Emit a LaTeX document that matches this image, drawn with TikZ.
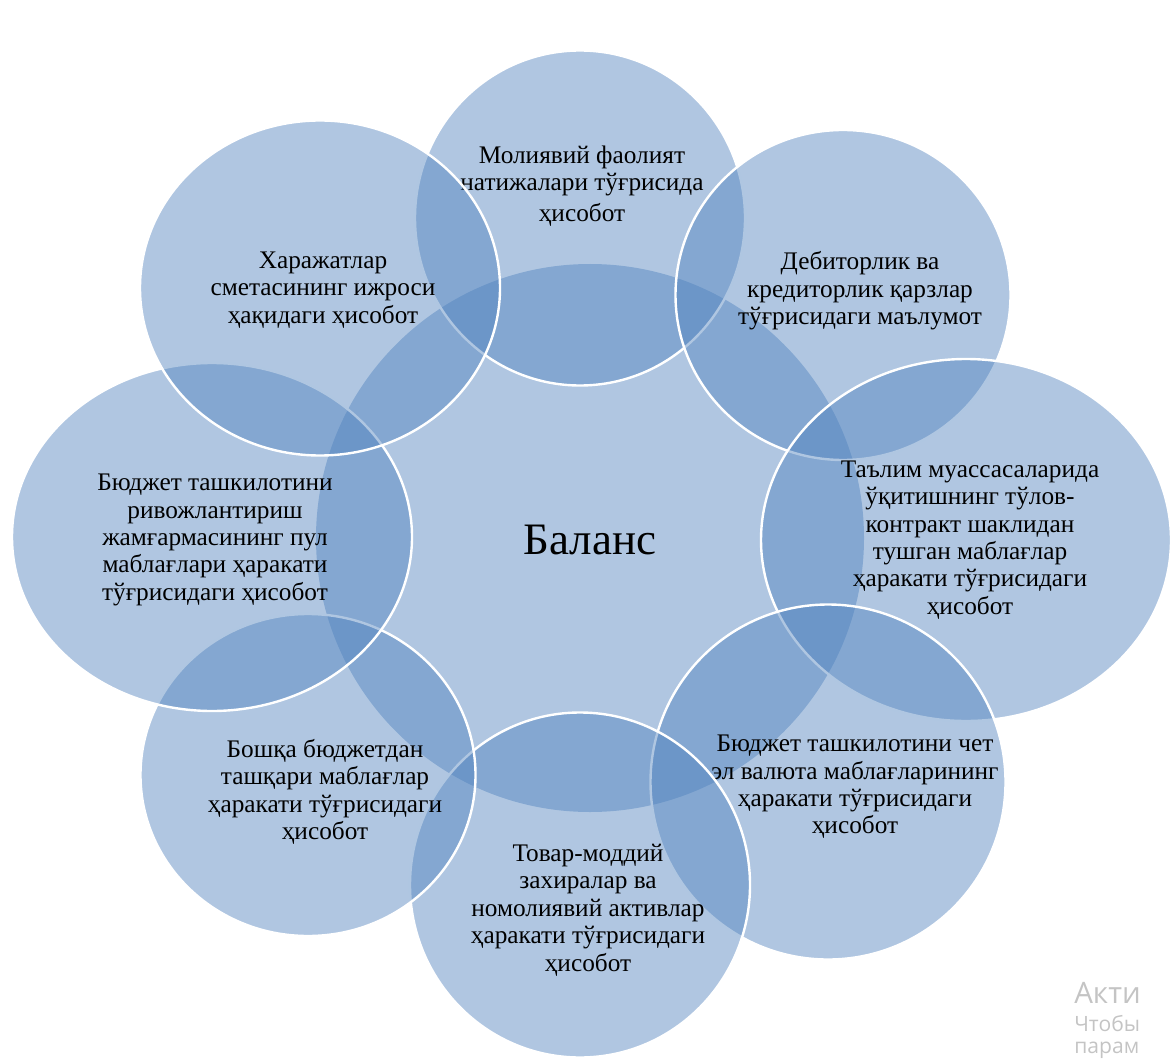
\documentclass[tikz,border=0pt]{standalone}
\usepackage{fontspec}
\setmainfont{Liberation Serif}
\newfontfamily\markfont{Open Sans}
\usetikzlibrary{shapes.geometric}
\definecolor{vennblue}{RGB}{79,129,189}
\definecolor{markgray}{RGB}{196,196,196}

\begin{document}
\begin{tikzpicture}[x=0.25mm, y=-0.25mm,
                        hub/.style={ellipse, fill=vennblue, fill opacity=0.45, text opacity=1, inner sep=0, minimum size=#1*0.25mm},
                        petal/.style 2 args={ellipse, draw=white, line width=0.6mm, fill=vennblue, fill opacity=0.45, inner sep=0, minimum width=#1*0.25mm, minimum height=#2*0.25mm},
                        caption/.style={align=center, text=black, inner sep=0, font=\fontsize{18}{19.5}\selectfont},
                        cornernote/.style={anchor=west, inner sep=0, text=markgray},
                        ]
        \clip (0,0) rectangle (1173,1061);

        %Centre
        \node[hub=548]   (balans)   at (590,538)  {};
        \node[caption, font=\fontsize{32}{34}\selectfont] (balansText) at (590,540) {Баланс};

        %Petals, clockwise from the top
        \node[petal={330}{335}]  (natija)   at (580,218)  {};
        \node[caption] (natijaText) at (582,186) {Молиявий фаолият\\натижалари тўғрисида\\[2pt]ҳисобот};

        \node[petal={335}{330}]  (debitor)  at (843,295)  {};
        \node[caption] (debitorText) at (860,291) {Дебиторлик ва\\кредиторлик қарзлар\\тўғрисидаги маълумот};

        \node[petal={410}{362}]  (talim)    at (966,540)  {};
        \node[caption] (talimText) at (970,540) {Таълим муассасаларида\\ўқитишнинг тўлов-\\контракт шаклидан\\тушган маблағлар\\ҳаракати тўғрисидаги\\ҳисобот};

        \node[petal={355}{355}]  (valyuta)  at (828,782)  {};
        \node[caption] (valyutaText) at (855,787) {Бюджет ташкилотини чет\\эл валюта маблағларининг\\ҳаракати тўғрисидаги\\ҳисобот};

        \node[petal={340}{345}]  (tovar)    at (580,885)  {};
        \node[caption] (tovarText) at (588,910) {Товар-моддий\\захиралар ва\\номолиявий активлар\\ҳаракати тўғрисидаги\\ҳисобот};

        \node[petal={335}{322}]  (boshqa)   at (308,775)  {};
        \node[caption] (boshqaText) at (325,792) {Бошқа бюджетдан\\ташқари маблағлар\\ҳаракати тўғрисидаги\\ҳисобот};

        \node[petal={400}{348}]  (jamgarma) at (212,537)  {};
        \node[caption] (jamgarmaText) at (215,540) {Бюджет ташкилотини\\ривожлантириш\\жамғармасининг пул\\маблағлари ҳаракати\\тўғрисидаги ҳисобот};

        \node[petal={360}{335}]  (smeta)    at (320,288)  {};
        \node[caption] (smetaText) at (323,290) {Харажатлар\\сметасининг ижроси\\ҳақидаги ҳисобот};

        %Corner note
        \node[cornernote, font=\markfont\fontsize{21}{23}\selectfont] (markA) at (1074,993) {Акти};
        \node[cornernote, font=\markfont\fontsize{15}{17}\selectfont] (markB) at (1074,1024) {Чтобы};
        \node[cornernote, font=\markfont\fontsize{15}{17}\selectfont] (markC) at (1074,1050) {парам};
    \end{tikzpicture}
\end{document}
